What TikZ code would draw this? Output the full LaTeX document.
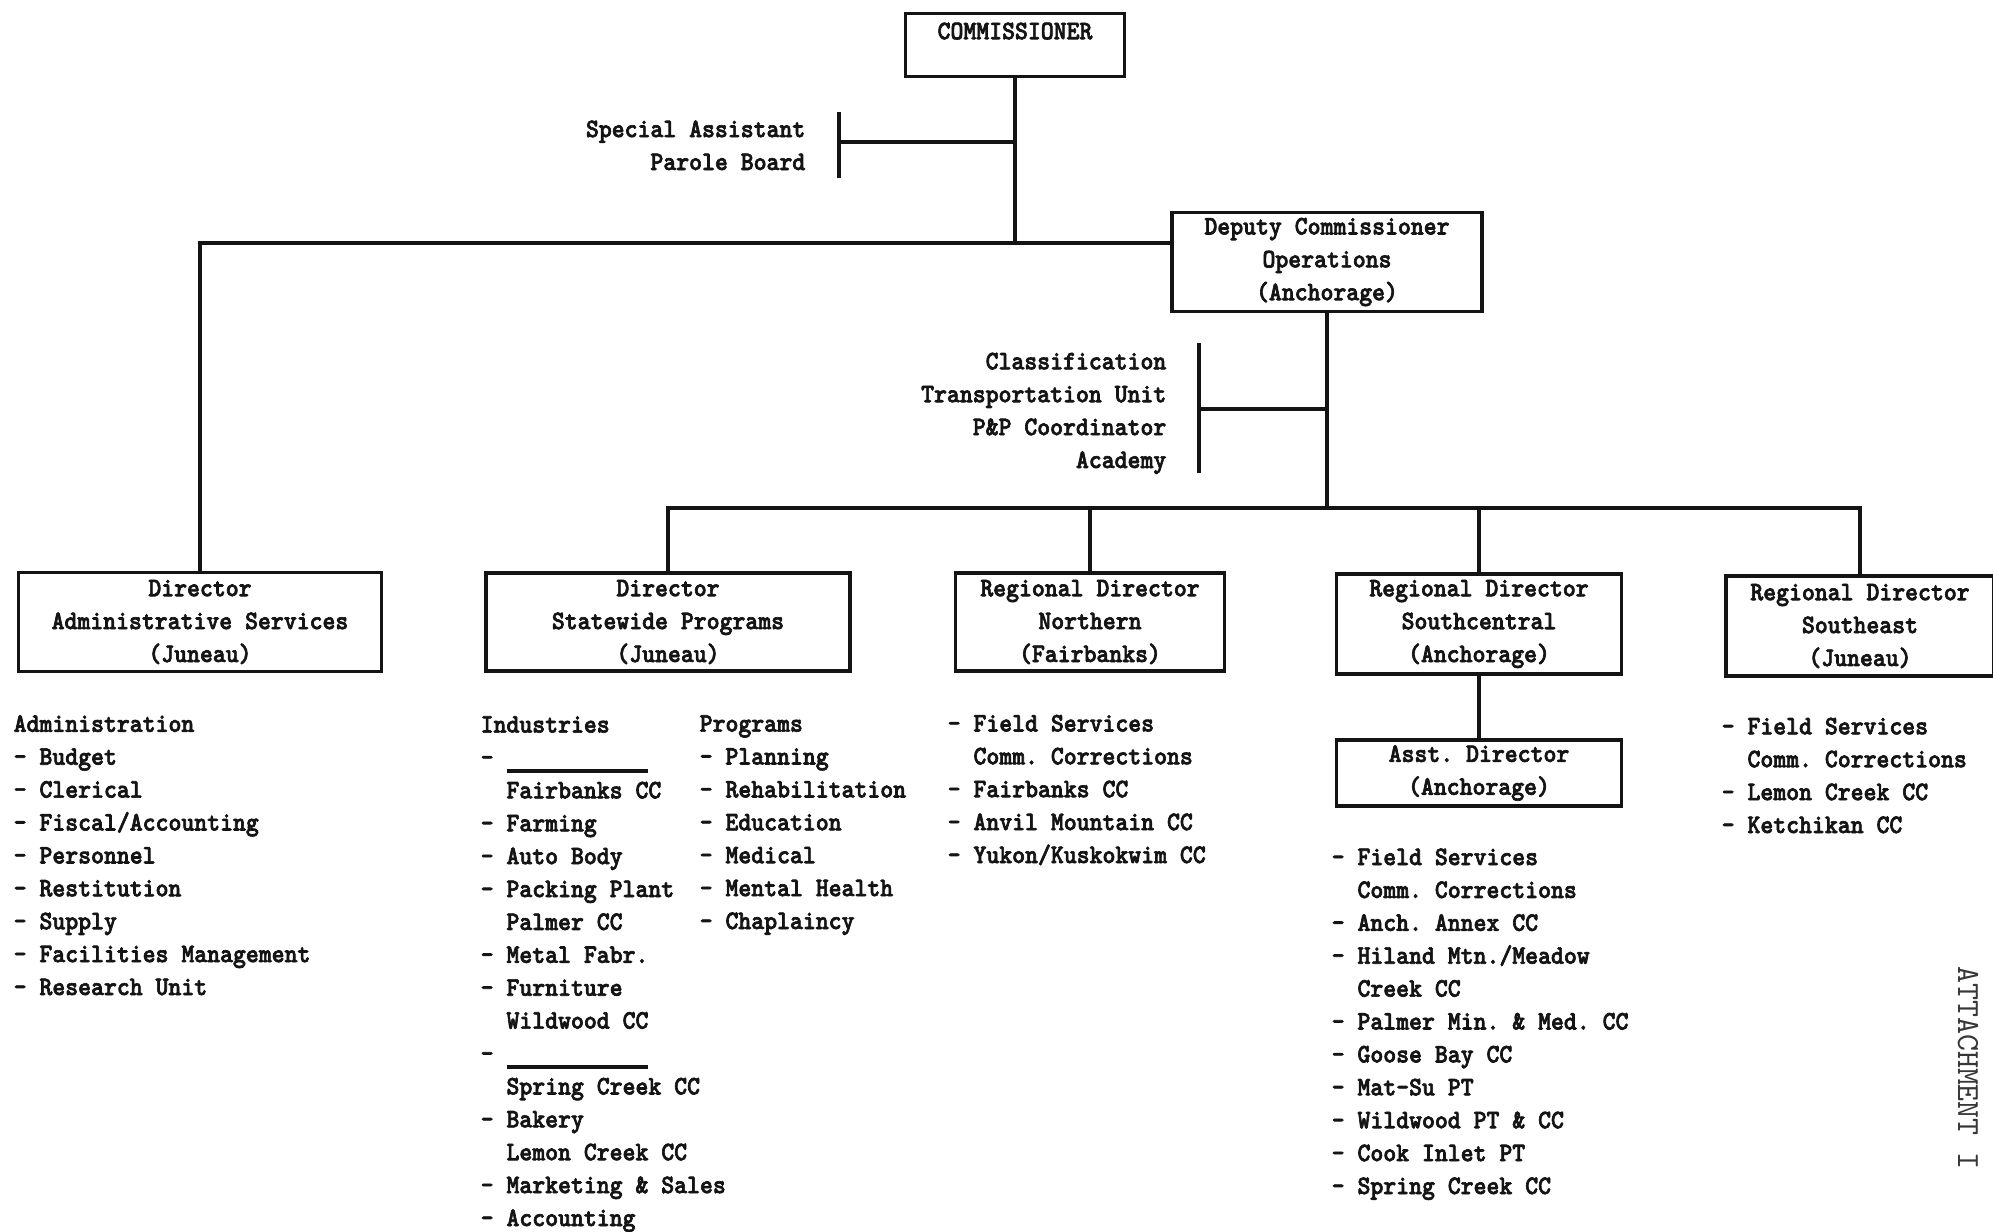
\documentclass[tikz,border=0pt]{standalone}
\usepackage{fontspec}
\usetikzlibrary{positioning}
\newfontfamily\typer{lmmonolt10-bold.otf}[FakeStretch=0.92,FakeBold=2.4]
\newfontfamily\platen{lmmono10-regular.otf}
\definecolor{ink}{HTML}{141414}
\frenchspacing
\newcommand\cont{\hphantom{- }}
\newcommand\fillin{\rule[-2pt]{40.4pt}{0.9pt}}
\tikzset{
  office/.style={
    draw=ink,
    line width=1.1pt,
    align=center,
    inner sep=0pt,
    font=\typer\fontsize{7.6}{9.36}\selectfont,
    text=ink
  },
  unitlist/.style={
    align=left,
    inner sep=0pt,
    anchor=base west,
    font=\typer\fontsize{7.6}{9.36}\selectfont,
    text=ink
  },
  staffnote/.style={
    align=right,
    inner sep=0pt,
    anchor=base east,
    font=\typer\fontsize{7.6}{9.36}\selectfont,
    text=ink
  },
  link/.style={draw=ink,line width=1pt},
  stamp/.style={font=\platen\fontsize{9.2}{11}\selectfont,text=ink!85,rotate=-90}
}

\begin{document}
\begin{tikzpicture}[x=0.1mm,y=0.1mm]
  \fill[white] (0,0) rectangle (1993,-1231);
  \useasboundingbox (0,0) rectangle (1993,-1231);

  % command line
  \node[office,minimum width=21.9mm,minimum height=6.3mm,
    text height=5.3pt,text depth=8.6pt] (comm) at (1015,-45) {COMMISSIONER};
  \node[office,minimum width=31mm,minimum height=9.9mm] (deputy) at (1327,-262)
    {Deputy Commissioner\\Operations\\(Anchorage)};

  % staff notes sit on the baseline of their last line
  \node[staffnote] (special) at (806,-170) {Special Assistant\\Parole Board};
  \node[staffnote] (support) at (1167,-468)
    {Classification\\Transportation Unit\\P\&P Coordinator\\Academy};

  \coordinate (mainbar) at (0,-243);
  \coordinate (branch) at (0,-508);
  \coordinate (spbar) at (839,-142);
  \coordinate (supbar) at (1199,-409);

  % divisions and regions
  \node[office,minimum width=36.3mm,minimum height=9.9mm] (admin) at (200,-622)
    {Director\\Administrative Services\\(Juneau)};
  \node[office,minimum width=36.4mm,minimum height=9.8mm] (statewide) at (668,-622)
    {Director\\Statewide Programs\\(Juneau)};
  \node[office,minimum width=26.9mm,minimum height=9.8mm] (northern) at (1090,-622)
    {Regional Director\\Northern\\(Fairbanks)};
  \node[office,minimum width=28.5mm,minimum height=10mm] (southcentral) at (1479,-624)
    {Regional Director\\Southcentral\\(Anchorage)};
  \node[office,minimum width=26.8mm,minimum height=10mm] (southeast) at (1860,-626)
    {Regional Director\\Southeast\\(Juneau)};
  \node[office,minimum width=28.5mm,minimum height=6.6mm] (asst) at (1479,-773)
    {Asst. Director\\(Anchorage)};

  \draw[link] (comm.south) -- (comm.south |- mainbar);
  \draw[link] (admin.north) |- (deputy.west |- mainbar);
  \draw[link] (spbar) ++(0,30) -- ++(0,-66);
  \draw[link] (spbar) -- (spbar -| comm.south);
  \draw[link] (deputy.south) -- (deputy.south |- branch);
  \draw[link] (supbar) ++(0,66) -- ++(0,-130);
  \draw[link] (supbar) -- (supbar -| deputy.south);
  \draw[link] (statewide.north) |- (southeast.north |- branch) -- (southeast.north);
  \foreach \unit in {northern,southcentral}
    \draw[link] (\unit.north) -- (\unit.north |- branch);
  \draw[link] (southcentral.south) -- (asst.north);

  % duties under each box (placed by the baseline of the last line)
  \node[unitlist] (adminlist) at (13,-995) {Administration\\- Budget\\- Clerical\\
    - Fiscal/Accounting\\- Personnel\\- Restitution\\- Supply\\
    - Facilities Management\\- Research Unit};
  \node[unitlist] (industries) at (480,-1226) {Industries\\- \fillin\\
    \cont Fairbanks CC\\- Farming\\- Auto Body\\- Packing Plant\\\cont Palmer CC\\
    - Metal Fabr.\\- Furniture\\\cont Wildwood CC\\- \fillin\\\cont Spring Creek CC\\
    - Bakery\\\cont Lemon Creek CC\\- Marketing \& Sales\\- Accounting};
  \node[unitlist] (programs) at (699,-929) {Programs\\- Planning\\- Rehabilitation\\
    - Education\\- Medical\\- Mental Health\\- Chaplaincy};
  \node[unitlist] (northlist) at (947,-863) {- Field Services\\\cont Comm. Corrections\\
    - Fairbanks CC\\- Anvil Mountain CC\\- Yukon/Kuskokwim CC};
  \node[unitlist] (asstlist) at (1331,-1194) {- Field Services\\\cont Comm. Corrections\\
    - Anch. Annex CC\\- Hiland Mtn./Meadow\\\cont Creek CC\\- Palmer Min. \& Med. CC\\
    - Goose Bay CC\\- Mat-Su PT\\- Wildwood PT \& CC\\- Cook Inlet PT\\- Spring Creek CC};
  \node[unitlist] (eastlist) at (1721,-833) {- Field Services\\\cont Comm. Corrections\\
    - Lemon Creek CC\\- Ketchikan CC};

  \node[stamp] (attach) at (1968,-1068) {ATTACHMENT I};
\end{tikzpicture}
\end{document}
